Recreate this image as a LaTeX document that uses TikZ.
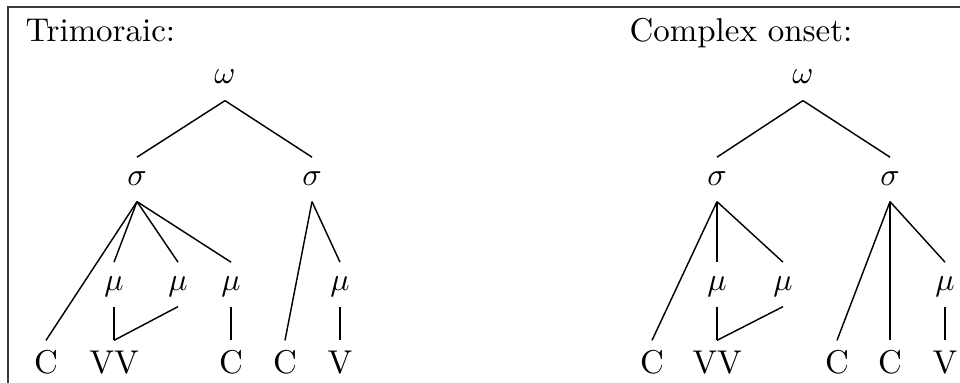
\documentclass[tikz,border=0pt]{standalone}
\usepackage{amsmath,amssymb}
\usepackage{tikz}
\usetikzlibrary{positioning}
\definecolor{frame}{HTML}{3A3A3A}

\begin{document}
\begin{tikzpicture}[x=0.3125pt,y=-0.3125pt,font=\fontsize{10.3}{12}\selectfont,
 prosod/.style={anchor=base,inner xsep=0pt,inner ysep=3pt,text height=5.5pt,text depth=2pt},
 seg/.style={anchor=base,inner xsep=0pt,inner ysep=3pt,text height=7pt,text depth=2pt},
 head/.style={anchor=base west,inner sep=0pt},
 assoc/.style={line width=0.45pt}]
\useasboundingbox (0,0) rectangle (960,383);
\draw[frame,line width=0.55pt] (8,383)--(8,7)--(960,7);
% Trimoraic
\node[head] (t1) at (25,42) {Trimoraic:};
\node[prosod] (w1) at (225,84) {$\omega$};
\node[prosod] (s1) at (137,185) {$\sigma$};
\node[prosod] (s2) at (312,185) {$\sigma$};
\node[prosod] (m1) at (114,290) {$\mu$};
\node[prosod] (m2) at (178,290) {$\mu$};
\node[prosod] (m3) at (231,290) {$\mu$};
\node[prosod] (m4) at (340,290) {$\mu$};
\node[seg] (c1) at (46,373) {C};
\node[seg] (vv1) at (114,373) {VV};
\node[seg] (c2) at (231,373) {C};
\node[seg] (c3) at (285,373) {C};
\node[seg] (v1) at (340,373) {V};
\draw[assoc] (w1.south)--(s1.north); \draw[assoc] (w1.south)--(s2.north);
\draw[assoc] (s1.south)--(c1.north); \draw[assoc] (s1.south)--(m1.north);
\draw[assoc] (s1.south)--(m2.north); \draw[assoc] (s1.south)--(m3.north);
\draw[assoc] (s2.south)--(c3.north); \draw[assoc] (s2.south)--(m4.north);
\draw[assoc] (m1.south)--(vv1.north); \draw[assoc] (m2.south)--(vv1.north);
\draw[assoc] (m3.south)--(c2.north); \draw[assoc] (m4.south)--(v1.north);
% Complex onset
\node[head] (t2) at (629,42) {Complex onset:};
\node[prosod] (w2) at (803,84) {$\omega$};
\node[prosod] (s3) at (717,185) {$\sigma$};
\node[prosod] (s4) at (890,185) {$\sigma$};
\node[prosod] (m5) at (717,290) {$\mu$};
\node[prosod] (m6) at (783,290) {$\mu$};
\node[prosod] (m7) at (945,290) {$\mu$};
\node[seg] (c4) at (652,373) {C};
\node[seg] (vv2) at (717,373) {VV};
\node[seg] (c5) at (837,373) {C};
\node[seg] (c6) at (890,373) {C};
\node[seg] (v2) at (945,373) {V};
\draw[assoc] (w2.south)--(s3.north); \draw[assoc] (w2.south)--(s4.north);
\draw[assoc] (s3.south)--(c4.north); \draw[assoc] (s3.south)--(m5.north);
\draw[assoc] (s3.south)--(m6.north);
\draw[assoc] (s4.south)--(c5.north); \draw[assoc] (s4.south)--(c6.north);
\draw[assoc] (s4.south)--(m7.north);
\draw[assoc] (m5.south)--(vv2.north); \draw[assoc] (m6.south)--(vv2.north);
\draw[assoc] (m7.south)--(v2.north);
\end{tikzpicture}
\end{document}
